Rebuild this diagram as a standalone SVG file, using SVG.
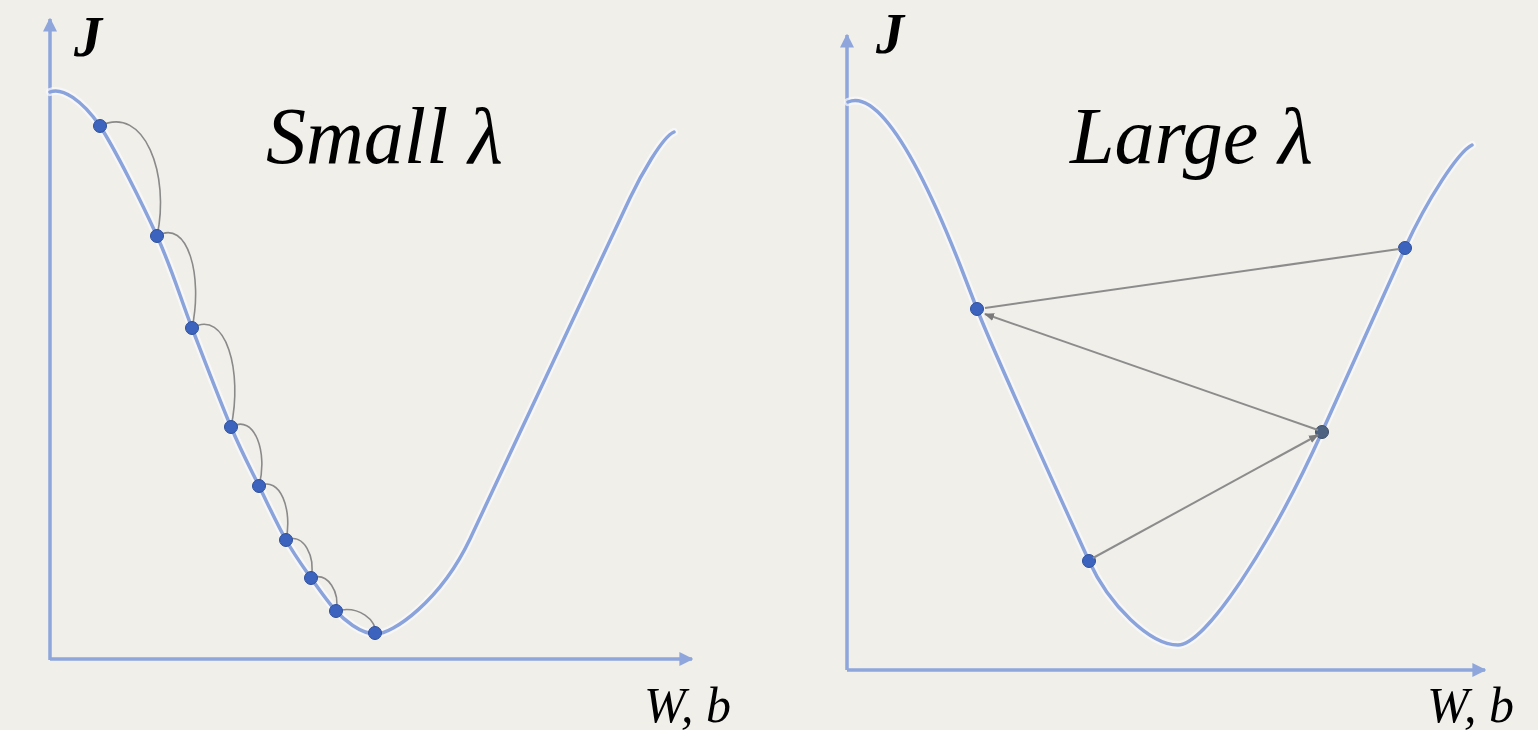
<svg xmlns="http://www.w3.org/2000/svg" width="1538" height="730" viewBox="0 0 1538 730">
<style>
.axis{fill:none;stroke:#8ea6dc;stroke-width:3.5}
.halo{fill:none;stroke:#fbfbfd;stroke-width:8;stroke-linecap:round;opacity:.7}
.curve{fill:none;stroke:#8aa3da;stroke-width:3.5;stroke-linecap:round}
.dot{fill:#3c63bd;stroke:#2e4f9c;stroke-width:1}
.hop{fill:none;stroke:#8a8a8a;stroke-width:1.6}
.step{fill:none;stroke:#8c8c8c;stroke-width:2}
.title{font-family:"Liberation Serif",serif;font-style:italic;font-size:80px;fill:#000}
.lab{font-family:"Liberation Serif",serif;font-style:italic;font-size:50px;fill:#000}
.j{font-family:"Liberation Serif",serif;font-style:italic;font-weight:bold;font-size:56px;fill:#000}
</style>
<defs>
<marker id="ax" viewBox="0 0 10 10" refX="9" refY="5" markerWidth="4" markerHeight="4" orient="auto" markerUnits="strokeWidth">
<path d="M0,0 L10,5 L0,10 z" fill="#8ea6dc"/>
</marker>
<marker id="ar" viewBox="0 0 10 10" refX="9" refY="5" markerWidth="5" markerHeight="5" orient="auto" markerUnits="strokeWidth">
<path d="M0,1 L10,5 L0,9 z" fill="#7a7a7a"/>
</marker>
<path id="lc" d="M50,92 C62,87 82,100 100,126 C115.5,150.2 141.7,202.3 157,236 C172.3,269.7 179.7,296.2 192,328 C204.3,359.8 219.8,400.7 231,427 C242.2,453.3 249.8,467.2 259,486 C268.2,504.8 277.3,524.7 286,540 C294.7,555.3 302.7,566.2 311,578 C319.3,589.8 328.7,603 336,611 C343.3,619 360,634 376,634 C392,634 440,602 470,539 C488,501 610,240 630,198 C640,177 662,137 674,132"/>
<path id="rc" d="M848,102 C862,96 895,100 960,265 L977,309 C994,353 1064,506 1089,561 C1109,605 1150,645 1178,645 C1205,645 1270,547 1322,432 C1350,370 1377,310 1405,248 C1427,200 1458,152 1472,145"/>
</defs>
<rect width="1538" height="730" fill="#f1efea"/>

<g id="left-plot">
<g id="left-axes">
<path class="axis" d="M50,660 L50,19" marker-end="url(#ax)"/>
<path class="axis" d="M50,659 L692,659" marker-end="url(#ax)"/>
</g>
<use href="#lc" class="halo"/>
<use href="#lc" class="curve"/>
<g id="left-hops">
<path class="hop" d="M100,126 C145,104 170.2,175.5 157,236"/>
<path class="hop" d="M157,236 C188.3,217.6 203,277.4 192,328"/>
<path class="hop" d="M192,328 C226.4,308.2 242.9,372.5 231,427"/>
<path class="hop" d="M231,427 C255,413 268,453.5 259,486"/>
<path class="hop" d="M259,486 C280.6,475.2 292.5,510.3 286,540"/>
<path class="hop" d="M286,540 C304.2,532.4 315.6,557.1 311,578"/>
<path class="hop" d="M311,578 C328.5,571.4 340,592.8 336,611"/>
<path class="hop" d="M336,611 C358.8,604.6 377.6,620.9 375,633"/>
</g>
<g id="left-dots">
<circle class="dot" cx="100" cy="126" r="6.5"/>
<circle class="dot" cx="157" cy="236" r="6.5"/>
<circle class="dot" cx="192" cy="328" r="6.5"/>
<circle class="dot" cx="231" cy="427" r="6.5"/>
<circle class="dot" cx="259" cy="486" r="6.5"/>
<circle class="dot" cx="286" cy="540" r="6.5"/>
<circle class="dot" cx="311" cy="578" r="6.5"/>
<circle class="dot" cx="336" cy="611" r="6.5"/>
<circle class="dot" cx="375" cy="633" r="6.5"/>
</g>
<text class="j" x="74" y="56">J</text>
<text class="title" x="266" y="163">Small λ</text>
<text class="lab" x="644" y="722">W, b</text>
</g>

<g id="right-plot">
<g id="right-axes">
<path class="axis" d="M847,670 L847,35" marker-end="url(#ax)"/>
<path class="axis" d="M847,670 L1485,670" marker-end="url(#ax)"/>
</g>
<use href="#rc" class="halo"/>
<use href="#rc" class="curve"/>
<g id="right-dots">
<circle class="dot" cx="977" cy="309" r="6.5"/>
<circle class="dot" cx="1089" cy="561" r="6.5"/>
<circle class="dot" cx="1405" cy="248" r="6.5"/>
<circle class="dot" cx="1322" cy="432" r="6.5" style="fill:#4d6180;stroke:#3e4e68"/>
</g>
<g id="right-steps">
<path class="step" d="M1093,558 L1318,435" marker-end="url(#ar)"/>
<path class="step" d="M1318,430 L985,314" marker-end="url(#ar)"/>
<path class="step" d="M985,308 L1399,249"/>
</g>
<text class="j" x="876" y="53">J</text>
<text class="title" x="1070" y="163">Large λ</text>
<text class="lab" x="1427" y="722">W, b</text>
</g>
</svg>
